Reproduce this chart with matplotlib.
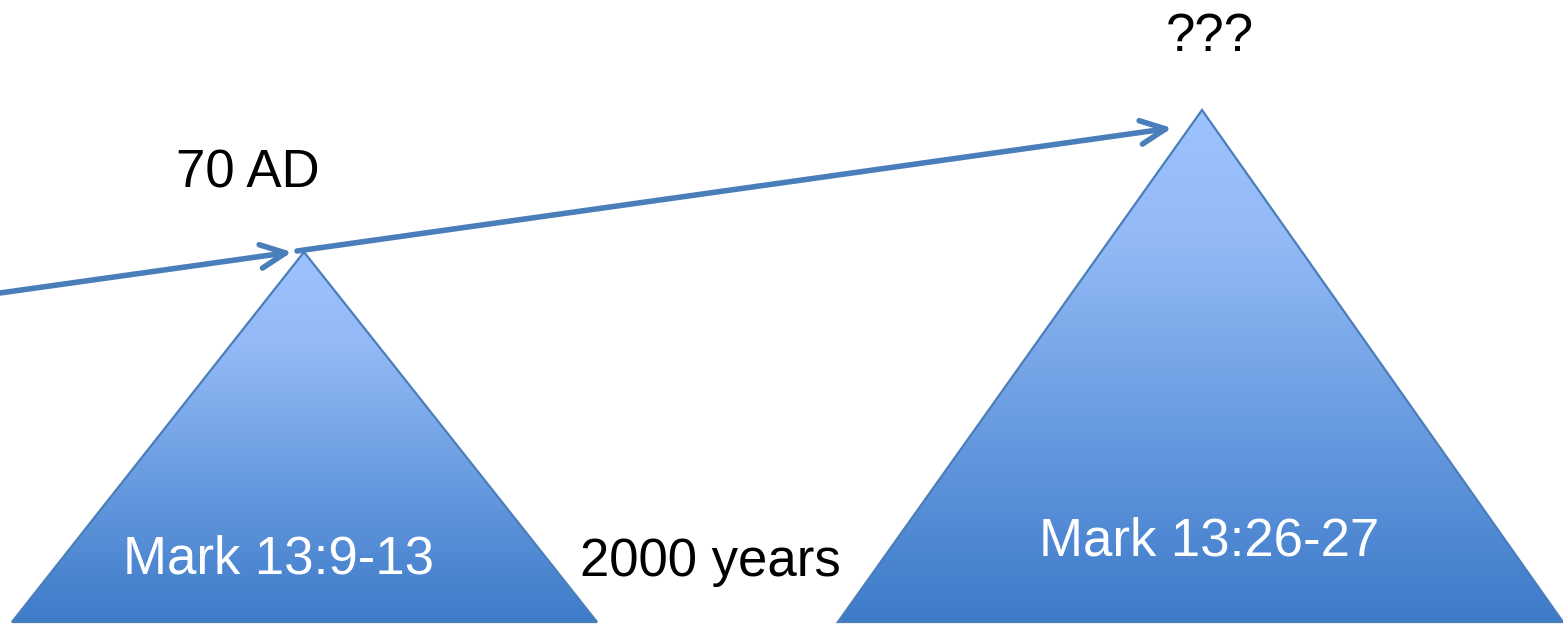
import matplotlib
matplotlib.use("Agg")
import matplotlib.pyplot as plt
import numpy as np
from matplotlib.patches import Polygon, FancyArrowPatch
from matplotlib.colors import LinearSegmentedColormap

plt.rcParams['font.family'] = ['Liberation Sans', 'DejaVu Sans']

W, H = 1563, 626

# triangles (apex, base left, base right) in picture pixels
tri_small = [(304, 252), (12, 622), (597, 622)]
tri_big = [(1202, 110), (838, 622), (1563, 622)]
triangles = [tri_small, tri_big]

# arrows (start, end)
arrow_starts = [(0, 293), (297, 251)]
arrow_ends = [(292, 252), (1172, 128)]

# labels
label_text = ["70 AD", "???", "2000 years", "Mark 13:9-13", "Mark 13:26-27"]
label_pos = [(248, 173), (1210, 37), (710, 562), (279, 560), (1209, 541)]
label_color = ["black", "black", "black", "white", "white"]

edge = "#4a7ebb"
cmap = LinearSegmentedColormap.from_list(
    "tri", [(0.0, "#9cc3ff"), (0.25, "#93baf6"), (1.0, "#3d7bc9")])

fig = plt.figure(figsize=(W / 100, H / 100), dpi=100)
ax = fig.add_axes([0, 0, 1, 1])
ax.set_xlim(0, W)
ax.set_ylim(H, 0)
ax.axis('off')

for tri in triangles:
    xs = [p[0] for p in tri]
    ys = [p[1] for p in tri]
    top, bot = min(ys), max(ys)
    grad = np.linspace(0, 1, 256).reshape(-1, 1)
    im = ax.imshow(grad, cmap=cmap, aspect='auto',
                   extent=[min(xs), max(xs), bot, top], zorder=1)
    poly = Polygon(tri, closed=True, facecolor='none', edgecolor=edge,
                   linewidth=1.6, zorder=2)
    ax.add_patch(poly)
    im.set_clip_path(poly)

for s, e in zip(arrow_starts, arrow_ends):
    arr = FancyArrowPatch(s, e, arrowstyle='->,head_length=1.8,head_width=0.85',
                          mutation_scale=10, color=edge, linewidth=4.0,
                          capstyle='round', joinstyle='round',
                          shrinkA=0, shrinkB=0, zorder=3)
    ax.add_patch(arr)

ax.set_xlim(0, W)
ax.set_ylim(H, 0)

for t, p, c in zip(label_text, label_pos, label_color):
    ax.text(p[0], p[1], t, color=c, fontsize=38, ha='center', va='center', zorder=4)

fig.savefig("out.png", dpi=100)
